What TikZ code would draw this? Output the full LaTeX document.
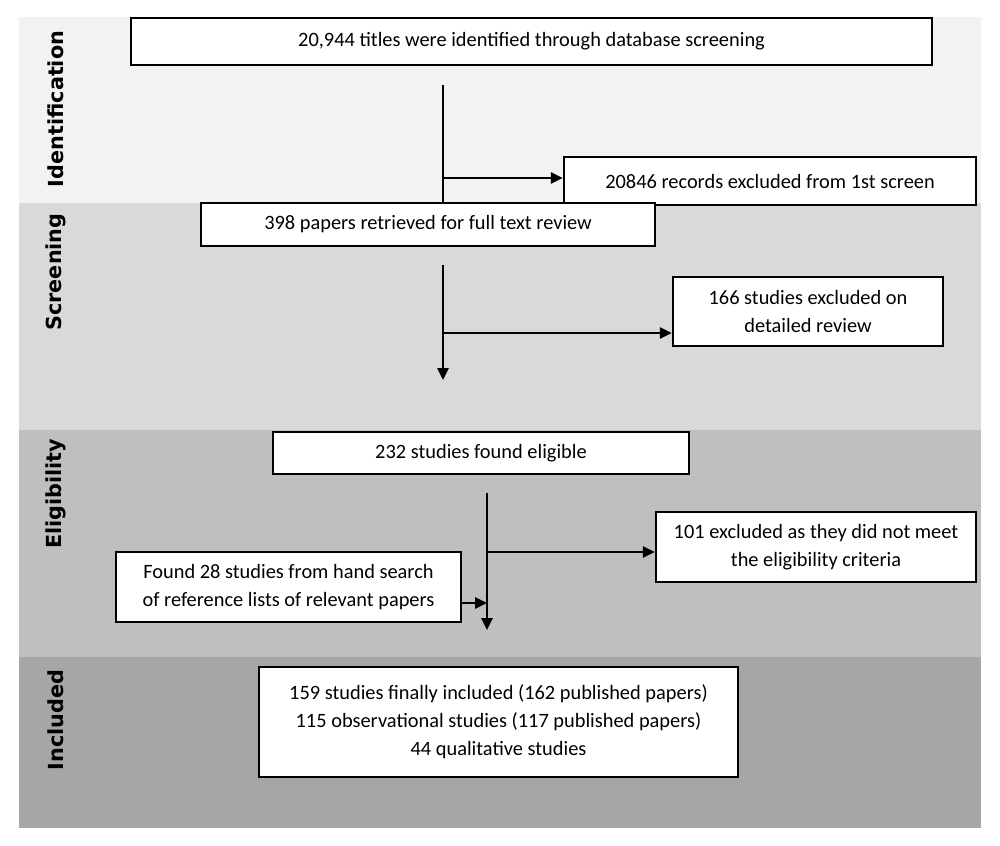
\documentclass[tikz,border=0pt]{standalone}
\usepackage{fontspec}
\setmainfont{Carlito}
\newfontfamily\stagefont{DejaVu Sans}
\usepackage{tikz}
\usetikzlibrary{arrows.meta}

\definecolor{bandA}{HTML}{F2F2F2}
\definecolor{bandB}{HTML}{D9D9D9}
\definecolor{bandC}{HTML}{BFBFBF}
\definecolor{bandD}{HTML}{A6A6A6}

\begin{document}
\begin{tikzpicture}[x=0.02cm, y=-0.02cm]
        \tikzset{boxes/.style={draw, fill=white, line width=1.4pt, align=center,
                    inner sep=0pt, font=\fontsize{11.6}{16}\selectfont},
                 stage/.style={rotate=90, font=\fontsize{11.8}{14}\stagefont\bfseries},
                 flow/.style={line width=1.5pt},
                 arrow/.style={flow, -{Triangle[length=2.4mm, width=2.2mm]}}}
        \useasboundingbox (0,0) rectangle (1000,845);
        % bands
        \fill [bandA] (19, 17) rectangle (981,203);
        \fill [bandB] (19,203) rectangle (981,430);
        \fill [bandC] (19,430) rectangle (981,657);
        \fill [bandD] (19,657) rectangle (981,828);
        \node [stage] (id)   at (56,109) {Identification};
        \node [stage] (scr)  at (56,272) {Screening};
        \node [stage] (elig) at (56,494) {Eligibility};
        \node [stage] (inc)  at (56,720) {Included};
        % boxes
        \node [boxes, minimum width=16.02cm, minimum height=0.94cm] (titles)   at (531.5, 41.5) {20,944 titles were identified through database screening};
        \node [boxes, minimum width=8.24cm,  minimum height=0.96cm] (excl1)    at (770,181)     {20846 records excluded from 1st screen};
        \node [boxes, minimum width=9.08cm,  minimum height=0.86cm] (papers)   at (428,224.5)   {398 papers retrieved for full text review};
        \node [boxes, minimum width=5.40cm,  minimum height=1.38cm] (excl2)    at (808,311.5)   {166 studies excluded on\\detailed review};
        \node [boxes, minimum width=8.32cm,  minimum height=0.84cm] (eligible) at (481,453)     {232 studies found eligible};
        \node [boxes, minimum width=6.40cm,  minimum height=1.40cm] (excl3)    at (816,547)     {101 excluded as they did not meet\\the eligibility criteria};
        \node [boxes, minimum width=6.90cm,  minimum height=1.40cm] (hand)     at (288.5,587)   {Found 28 studies from hand search\\of reference lists of relevant papers};
        \node [boxes, minimum width=9.58cm,  minimum height=2.20cm] (final)    at (498.5,722)   {159 studies finally included (162 published papers)\\115 observational studies (117 published papers)\\44 qualitative studies};
        % connectors
        \coordinate (s1) at (443,85);
        \coordinate (j1) at (443,178);
        \coordinate (s2) at (443,265);
        \coordinate (e2) at (443,380);
        \coordinate (j2) at (443,333);
        \coordinate (s3) at (487,493);
        \coordinate (e3) at (487,630);
        \coordinate (j3) at (487,552);
        \coordinate (j4) at (487,603);
        \draw [flow]  (s1) -- (s1 |- papers.north);
        \draw [arrow] (j1) -- (j1 -| excl1.west);
        \draw [arrow] (s2) -- (e2);
        \draw [arrow] (j2) -- (j2 -| excl2.west);
        \draw [arrow] (s3) -- (e3);
        \draw [arrow] (j3) -- (j3 -| excl3.west);
        \draw [arrow] (j4 -| hand.east) -- (j4);
    \end{tikzpicture}
\end{document}
